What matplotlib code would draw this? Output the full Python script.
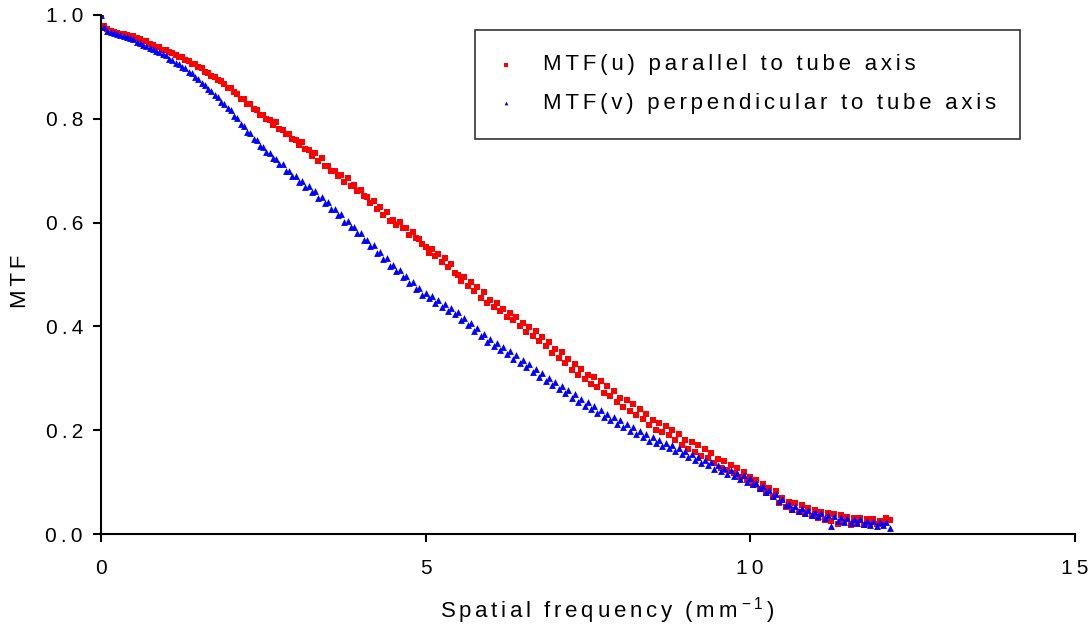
import numpy as np
import matplotlib
matplotlib.use("Agg")
import matplotlib.pyplot as plt

plt.rcParams['font.family'] = ['Liberation Sans', 'DejaVu Sans']
plt.rcParams['mathtext.fontset'] = 'custom'
plt.rcParams['mathtext.rm'] = 'Liberation Sans'
plt.rcParams['mathtext.it'] = 'Liberation Sans'

# Sampling grid of spatial frequency (mm^-1), step 0.05 from 0 to 12.15
freq_step = 0.05
n_points = 244

mtf_u = [
    1.000, 0.978, 0.973, 0.969, 0.968, 0.966, 0.964, 0.963, 0.961, 0.960,
    0.959, 0.955, 0.954, 0.950, 0.949, 0.944, 0.943, 0.939, 0.938, 0.933,
    0.932, 0.928, 0.927, 0.923, 0.920, 0.919, 0.913, 0.912, 0.906, 0.905,
    0.899, 0.897, 0.890, 0.889, 0.882, 0.880, 0.874, 0.872, 0.867, 0.860,
    0.859, 0.851, 0.848, 0.839, 0.838, 0.829, 0.828, 0.818, 0.817, 0.808,
    0.807, 0.799, 0.798, 0.789, 0.793, 0.780, 0.779, 0.770, 0.771, 0.761,
    0.760, 0.750, 0.755, 0.741, 0.740, 0.729, 0.735, 0.719, 0.724, 0.709,
    0.710, 0.700, 0.699, 0.690, 0.691, 0.679, 0.686, 0.670, 0.672, 0.661,
    0.663, 0.651, 0.650, 0.637, 0.641, 0.627, 0.630, 0.615, 0.620, 0.603,
    0.605, 0.596, 0.601, 0.589, 0.590, 0.577, 0.582, 0.570, 0.569, 0.559,
    0.553, 0.542, 0.549, 0.535, 0.540, 0.525, 0.532, 0.514, 0.520, 0.503,
    0.500, 0.488, 0.495, 0.478, 0.485, 0.468, 0.476, 0.455, 0.466, 0.446,
    0.450, 0.437, 0.446, 0.430, 0.433, 0.419, 0.425, 0.412, 0.418, 0.400,
    0.406, 0.390, 0.398, 0.382, 0.392, 0.371, 0.379, 0.362, 0.370, 0.349,
    0.356, 0.339, 0.350, 0.330, 0.338, 0.316, 0.328, 0.307, 0.318, 0.298,
    0.307, 0.289, 0.302, 0.283, 0.295, 0.272, 0.285, 0.266, 0.276, 0.255,
    0.262, 0.244, 0.258, 0.237, 0.250, 0.229, 0.240, 0.222, 0.232, 0.210,
    0.219, 0.201, 0.214, 0.196, 0.208, 0.190, 0.200, 0.182, 0.193, 0.172,
    0.181, 0.163, 0.177, 0.158, 0.171, 0.151, 0.163, 0.146, 0.156, 0.137,
    0.145, 0.128, 0.140, 0.123, 0.133, 0.117, 0.127, 0.110, 0.119, 0.104,
    0.110, 0.095, 0.104, 0.086, 0.097, 0.079, 0.088, 0.072, 0.082, 0.060,
    0.069, 0.052, 0.062, 0.046, 0.060, 0.042, 0.055, 0.038, 0.050, 0.034,
    0.046, 0.030, 0.042, 0.027, 0.041, 0.025, 0.038, 0.020, 0.036, 0.024,
    0.033, 0.018, 0.031, 0.022, 0.030, 0.017, 0.029, 0.020, 0.028, 0.019,
    0.026, 0.020, 0.031, 0.027,
]

mtf_v = [
    1.000, 0.976, 0.970, 0.968, 0.966, 0.963, 0.962, 0.960, 0.957, 0.955,
    0.953, 0.948, 0.947, 0.942, 0.941, 0.936, 0.935, 0.930, 0.928, 0.924,
    0.922, 0.916, 0.914, 0.908, 0.906, 0.899, 0.897, 0.890, 0.888, 0.881,
    0.877, 0.869, 0.866, 0.857, 0.854, 0.845, 0.842, 0.832, 0.829, 0.820,
    0.816, 0.805, 0.802, 0.790, 0.787, 0.775, 0.773, 0.762, 0.759, 0.748,
    0.746, 0.736, 0.735, 0.724, 0.723, 0.712, 0.712, 0.700, 0.700, 0.689,
    0.689, 0.679, 0.680, 0.668, 0.670, 0.658, 0.660, 0.648, 0.650, 0.638,
    0.639, 0.627, 0.627, 0.614, 0.616, 0.602, 0.604, 0.591, 0.592, 0.579,
    0.580, 0.567, 0.567, 0.554, 0.556, 0.541, 0.544, 0.529, 0.531, 0.517,
    0.518, 0.506, 0.508, 0.495, 0.497, 0.483, 0.486, 0.472, 0.474, 0.461,
    0.465, 0.454, 0.458, 0.446, 0.451, 0.438, 0.443, 0.430, 0.436, 0.423,
    0.427, 0.412, 0.417, 0.402, 0.406, 0.391, 0.396, 0.381, 0.385, 0.370,
    0.375, 0.362, 0.368, 0.354, 0.360, 0.346, 0.352, 0.338, 0.344, 0.330,
    0.336, 0.321, 0.327, 0.313, 0.318, 0.303, 0.310, 0.295, 0.301, 0.287,
    0.293, 0.279, 0.285, 0.271, 0.277, 0.262, 0.269, 0.255, 0.261, 0.247,
    0.254, 0.241, 0.247, 0.233, 0.239, 0.226, 0.232, 0.219, 0.225, 0.212,
    0.219, 0.206, 0.212, 0.199, 0.206, 0.193, 0.199, 0.186, 0.193, 0.180,
    0.187, 0.175, 0.181, 0.170, 0.176, 0.165, 0.171, 0.159, 0.166, 0.154,
    0.160, 0.149, 0.155, 0.143, 0.149, 0.137, 0.143, 0.132, 0.138, 0.126,
    0.133, 0.121, 0.128, 0.116, 0.123, 0.111, 0.118, 0.106, 0.113, 0.101,
    0.107, 0.096, 0.099, 0.088, 0.092, 0.081, 0.085, 0.073, 0.077, 0.064,
    0.067, 0.055, 0.058, 0.049, 0.054, 0.045, 0.050, 0.041, 0.046, 0.037,
    0.043, 0.034, 0.040, 0.031, 0.037, 0.015, 0.034, 0.026, 0.032, 0.024,
    0.030, 0.022, 0.029, 0.021, 0.028, 0.019, 0.026, 0.018, 0.025, 0.016,
    0.023, 0.018, 0.024, 0.012,
]

x_ticks = [0, 5, 10, 15]
y_ticks = [0.0, 0.2, 0.4, 0.6, 0.8, 1.0]
x_tick_labels = ["0", "5", "10", "15"]
y_tick_labels = ["0.0", "0.2", "0.4", "0.6", "0.8", "1.0"]
label_u = "MTF(u) parallel to tube axis"
label_v = "MTF(v) perpendicular to tube axis"

SIX = "\u2006"
THIN = "\u2009"


def spaced(s, sep=SIX):
    return sep.join(list(s))


freq = np.arange(n_points) * freq_step

fig = plt.figure(figsize=(10.91, 6.31), dpi=100)
ax = fig.add_axes([101 / 1091, 1 - 534 / 631, (1074.5 - 101) / 1091, (534 - 15) / 631])

ax.scatter(freq, mtf_u, marker='s', s=20, color='#ff0000', linewidths=0,
           label=spaced(label_u), zorder=3)
ax.scatter(freq, mtf_v, marker='^', s=24, color='#0000ff', linewidths=0,
           label=spaced(label_v), zorder=4)

ax.set_xlim(0, 15)
ax.set_ylim(0, 1.0)
ax.set_xticks(x_ticks)
ax.set_xticklabels([spaced(t, THIN) for t in x_tick_labels])
ax.set_yticks(y_ticks)
ax.set_yticklabels([spaced(t, THIN) for t in y_tick_labels])
ax.tick_params(direction='out', length=6, width=1.5, labelsize=15, colors='black')
ax.tick_params(axis='x', pad=12)
ax.tick_params(axis='y', pad=7)
for side in ['top', 'right']:
    ax.spines[side].set_visible(False)
for side in ['left', 'bottom']:
    ax.spines[side].set_linewidth(1.5)
    ax.spines[side].set_zorder(5)

ax.set_xlabel(spaced("Spatial frequency (mm") + r"$^{\,-1}$" + SIX + ")", fontsize=16)
ax.set_ylabel(spaced("MTF"), fontsize=16)
ax.xaxis.set_label_coords(0.52, -0.117)
ax.yaxis.set_label_coords(-0.072, 0.487)

leg = ax.legend(loc='upper left', bbox_to_anchor=(0.384, 0.971), frameon=True,
                fancybox=False, edgecolor='black', fontsize=16, markerscale=0.55,
                handlelength=0.6, handletextpad=1.35, borderpad=1.1, labelspacing=0.8,
                borderaxespad=0, scatterpoints=1)
leg.get_frame().set_linewidth(1.2)

fig.savefig("out.png", dpi=100, facecolor='white')
